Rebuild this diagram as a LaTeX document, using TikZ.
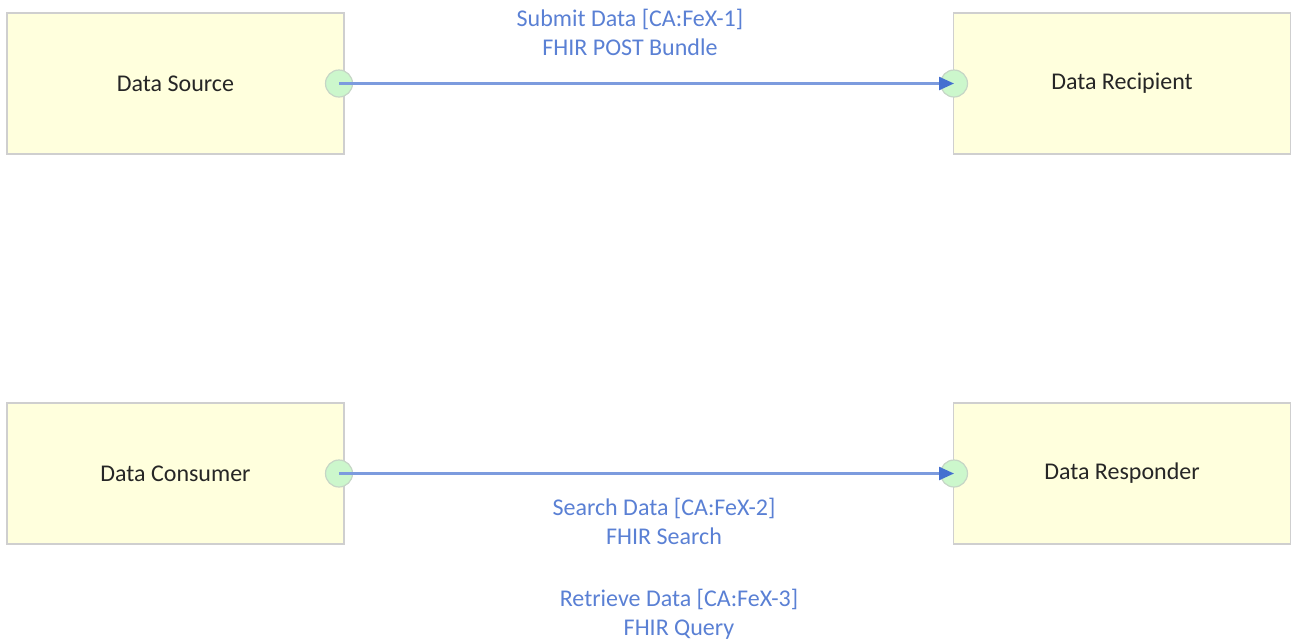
\documentclass[tikz,border=0pt]{standalone}
\usepackage{fontspec}
\setmainfont{Carlito}
\usetikzlibrary{arrows.meta}
\definecolor{boxfill}{HTML}{FFFFDD}
\definecolor{boxline}{HTML}{CFCFCF}
\definecolor{portfill}{HTML}{CCF7CC}
\definecolor{portline}{HTML}{C6D6C6}
\definecolor{linkcol}{HTML}{7C9BDE}
\definecolor{tipcol}{HTML}{4470D0}
\definecolor{labcol}{HTML}{5A80D4}
\tikzset{
  actor/.style={draw=boxline, line width=1.2pt, fill=boxfill, minimum width=337pt, minimum height=141pt, inner sep=0pt, font=\fontsize{24}{29}\selectfont, text=black!85},
  port/.style={circle, draw=portline, line width=1.2pt, fill=portfill, minimum size=27pt, inner sep=0pt},
  link/.style={draw=linkcol, line width=2.4pt, -{Triangle[length=15pt,width=13pt,color=tipcol]}},
  lab/.style={text=labcol, font=\fontsize{24}{29}\selectfont, align=center, inner sep=0pt}
}
\begin{document}
\begin{tikzpicture}[x=1pt,y=-1pt]
\useasboundingbox (0,0) rectangle (1291,641);
\node[actor] (src) at (175.5,83.5) {Data Source};
\node[actor] (rcp) at (1122,83.5) {Data Recipient};
\node[actor] (con) at (175.5,473.5) {Data Consumer};
\node[actor] (rsp) at (1122,473.5) {Data Responder};
\node[port] (p1) at (339,83.5) {};
\node[port] (p2) at (954,83.5) {};
\node[port] (p3) at (339,473.5) {};
\node[port] (p4) at (954,473.5) {};
\draw[link] (p1.center) -- (p2.center);
\draw[link] (p3.center) -- (p4.center);
\node[lab] (l1) at (630,32.5) {Submit Data [CA:FeX-1]\\FHIR POST Bundle};
\node[lab] (l2) at (664,521) {Search Data [CA:FeX-2]\\FHIR Search};
\node[lab] (l3) at (679,614.5) {Retrieve Data [CA:FeX-3]\\FHIR Query};
\end{tikzpicture}
\end{document}
